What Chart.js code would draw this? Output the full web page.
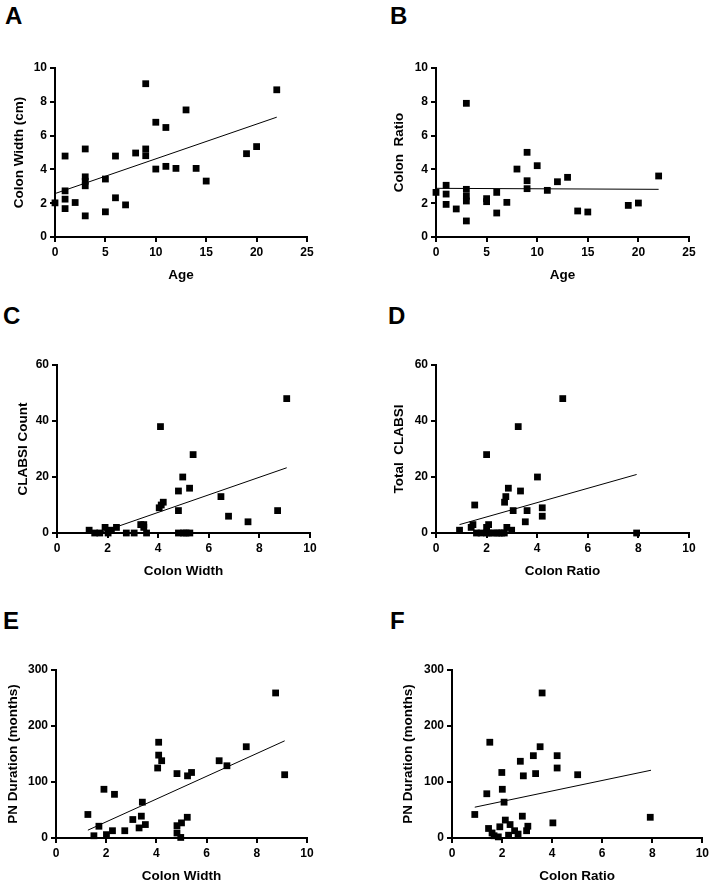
<!DOCTYPE html>
<html>
<head>
<meta charset="utf-8">
<script src="https://cdn.jsdelivr.net/npm/chart.js@4.4.1/dist/chart.umd.min.js"></script>
<style>
  html, body { margin: 0; padding: 0; background: #fff; overflow: hidden; }
  body { width: 712px; height: 881px; position: relative; font-family: "Liberation Sans", Arial, sans-serif; }
  .box { position: absolute; }
  .letter { position: absolute; font-weight: bold; font-size: 24px; color: #000; line-height: 1; }
</style>
</head>
<body>
<div class="letter" style="left:5px;top:4px">A</div>
<div class="letter" style="left:390px;top:4px">B</div>
<div class="letter" style="left:3px;top:304px">C</div>
<div class="letter" style="left:388px;top:304px">D</div>
<div class="letter" style="left:3px;top:609px">E</div>
<div class="letter" style="left:390px;top:609px">F</div>

<div class="box" id="boxA"><canvas id="chartA"></canvas></div>
<div class="box" id="boxB"><canvas id="chartB"></canvas></div>
<div class="box" id="boxC"><canvas id="chartC"></canvas></div>
<div class="box" id="boxD"><canvas id="chartD"></canvas></div>
<div class="box" id="boxE"><canvas id="chartE"></canvas></div>
<div class="box" id="boxF"><canvas id="chartF"></canvas></div>

<script>
// A: age vs colon width
const ageA = [0, 1, 1, 1, 1, 2, 3, 3, 3, 3, 3, 5, 5, 6, 6, 7, 8, 9, 9, 9, 10, 10, 11, 11, 12, 13, 14, 15, 19, 20, 22];
const widthA = [2.02, 4.79, 2.73, 2.24, 1.68, 2.04, 5.21, 3.56, 3.3, 3.03, 1.25, 3.43, 1.49, 4.79, 2.32, 1.9, 4.97, 9.07, 5.21, 4.81, 6.79, 4.02, 6.48, 4.18, 4.06, 7.52, 4.06, 3.31, 4.93, 5.35, 8.71];
const fitA = [[0, 2.57], [22, 7.09]];

// B: age vs colon ratio
const ageB = [0, 1, 1, 1, 2, 3, 3, 3, 3, 3, 5, 5, 6, 6, 7, 8, 9, 9, 9, 10, 11, 12, 13, 14, 15, 19, 20, 22];
const ratioB = [2.64, 3.06, 2.54, 1.93, 1.66, 7.91, 2.82, 2.41, 2.13, 0.95, 2.27, 2.09, 2.64, 1.42, 2.05, 4.02, 5.01, 3.33, 2.86, 4.22, 2.76, 3.27, 3.53, 1.54, 1.48, 1.87, 2.01, 3.61];
const fitB = [[0, 2.88], [22, 2.82]];

// C: colon width vs CLABSI count
const widthC = [1.27, 1.49, 1.69, 1.9, 2.02, 2.15, 2.35, 2.74, 3.05, 3.31, 3.43, 3.43, 3.54, 4.04, 4.09, 4.12, 4.2, 4.8, 4.8, 4.8, 4.97, 5.0, 5.1, 5.25, 5.24, 5.38, 6.48, 6.78, 7.55, 8.72, 9.08];
const clabsiC = [1, 0, 0, 2, 0, 1, 2, 0, 0, 3, 3, 2, 0, 9, 38, 10, 11, 15, 8, 0, 20, 0, 0, 0, 16, 28, 13, 6, 4, 8, 48];
const fitC = [[1.27, -1.2], [9.08, 23.3]];

// D: colon ratio vs total CLABSI
const ratioD = [0.93, 1.39, 1.46, 1.53, 1.6, 1.78, 2.0, 2.0, 2.08, 2.0, 2.1, 2.25, 2.4, 2.5, 2.6, 2.7, 2.71, 2.76, 2.86, 2.8, 2.99, 3.05, 3.25, 3.34, 3.53, 3.6, 4.01, 4.2, 4.2, 5.01, 7.93];
const clabsiD = [1, 2, 3, 10, 0, 0, 28, 2, 3, 0, 0, 0, 0, 0, 0, 0, 11, 13, 16, 2, 1, 8, 38, 15, 4, 8, 20, 9, 6, 48, 0];
const fitD = [[0.93, 3.0], [7.93, 20.9]];

// E: colon width vs PN duration
const widthE = [1.27, 1.51, 1.71, 1.91, 2.01, 2.25, 2.33, 2.74, 3.06, 3.31, 3.4, 3.44, 3.56, 4.05, 4.09, 4.09, 4.21, 4.82, 4.82, 4.82, 4.97, 5.0, 5.23, 5.24, 5.4, 6.5, 6.81, 7.58, 8.75, 9.11];
const pnE = [42, 4, 21, 87, 6, 13, 78, 13, 33, 18, 39, 64, 24, 125, 171, 148, 138, 115, 22, 9, 1, 27, 37, 111, 117, 138, 129, 163, 259, 113];
const fitE = [[1.27, 14], [9.11, 173.5]];

// F: colon ratio vs PN duration
const ratioF = [0.91, 1.39, 1.46, 1.51, 1.6, 1.68, 1.85, 1.91, 1.99, 2.01, 2.08, 2.13, 2.26, 2.32, 2.5, 2.64, 2.73, 2.81, 2.85, 2.98, 3.03, 3.25, 3.34, 3.52, 3.6, 4.03, 4.2, 4.2, 5.02, 7.92];
const pnF = [42, 79, 17, 171, 9, 4, 2, 20, 117, 87, 64, 32, 5, 24, 13, 7, 137, 39, 111, 13, 21, 147, 115, 163, 259, 27, 147, 125, 113, 37];
const fitF = [[0.91, 55], [7.95, 121]];

const FONT = '"Liberation Sans", Arial, sans-serif';
const PAD_TOP = 12;
const X_H = 46;

function toPts(xs, ys) {
    return xs.map((x, i) => ({x: x, y: ys[i]}));
}

function makeChart(id, area, xs, ys, fit, xMax, xStep, yMax, yStep, xTitle, yTitle, titleOff, padRight) {
    const wy = titleOff + 8;
    const box = document.getElementById('box' + id);
    box.style.left = (area.left - wy) + 'px';
    box.style.top = (area.top - PAD_TOP) + 'px';
    box.style.width = (wy + area.right - area.left + padRight) + 'px';
    box.style.height = (PAD_TOP + area.bottom - area.top + X_H) + 'px';

    const tickFont = {family: FONT, size: 12, weight: 'bold'};
    const titleFont = {family: FONT, size: 13.5, weight: 'bold'};

    return new Chart(document.getElementById('chart' + id), {
        type: 'scatter',
        data: {
            datasets: [
                {
                    data: toPts(xs, ys),
                    pointStyle: 'rect',
                    pointRadius: 4.8,
                    backgroundColor: '#000',
                    borderWidth: 0,
                    clip: false,
                    order: 0
                },
                {
                    data: fit.map(p => ({x: p[0], y: p[1]})),
                    showLine: true,
                    borderColor: '#000',
                    borderWidth: 1,
                    pointRadius: 0,
                    order: 1
                }
            ]
        },
        options: {
            responsive: true,
            maintainAspectRatio: false,
            animation: false,
            layout: {padding: {top: PAD_TOP, right: padRight, left: 0, bottom: 0}},
            plugins: {legend: {display: false}, tooltip: {enabled: false}},
            scales: {
                x: {
                    type: 'linear',
                    min: 0,
                    max: xMax,
                    ticks: {stepSize: xStep, color: '#000', font: tickFont, padding: 3, maxRotation: 0, autoSkip: false},
                    grid: {drawOnChartArea: false, color: '#000', lineWidth: 2, tickLength: 5},
                    border: {color: '#000', width: 2},
                    title: {display: true, text: xTitle, color: '#000', font: titleFont, padding: 0},
                    afterFit(s) { s.height = X_H; }
                },
                y: {
                    type: 'linear',
                    min: 0,
                    max: yMax,
                    ticks: {stepSize: yStep, color: '#000', font: tickFont, padding: 3, autoSkip: false},
                    grid: {drawOnChartArea: false, color: '#000', lineWidth: 2, tickLength: 5},
                    border: {color: '#000', width: 2},
                    title: {display: true, text: yTitle, color: '#000', font: titleFont, padding: 0},
                    afterFit(s) { s.width = wy; }
                }
            }
        }
    });
}

makeChart('A', {left: 55, right: 307, top: 68, bottom: 237}, ageA, widthA, fitA, 25, 5, 10, 2, 'Age', 'Colon Width (cm)', 36, 14);
makeChart('B', {left: 436, right: 689, top: 68, bottom: 237}, ageB, ratioB, fitB, 25, 5, 10, 2, 'Age', 'Colon  Ratio', 37, 14);
makeChart('C', {left: 57, right: 310, top: 365, bottom: 533}, widthC, clabsiC, fitC, 10, 2, 60, 20, 'Colon Width', 'CLABSI Count', 34, 14);
makeChart('D', {left: 436, right: 689, top: 365, bottom: 533}, ratioD, clabsiD, fitD, 10, 2, 60, 20, 'Colon Ratio', 'Total  CLABSI', 37, 14);
makeChart('E', {left: 56, right: 307, top: 670, bottom: 838}, widthE, pnE, fitE, 10, 2, 300, 100, 'Colon Width', 'PN Duration (months)', 43, 14);
makeChart('F', {left: 452, right: 704, top: 670, bottom: 838}, ratioF, pnF, fitF, 10, 2, 300, 100, 'Colon Ratio', 'PN Duration (months)', 44, 8);
</script>
</body>
</html>
